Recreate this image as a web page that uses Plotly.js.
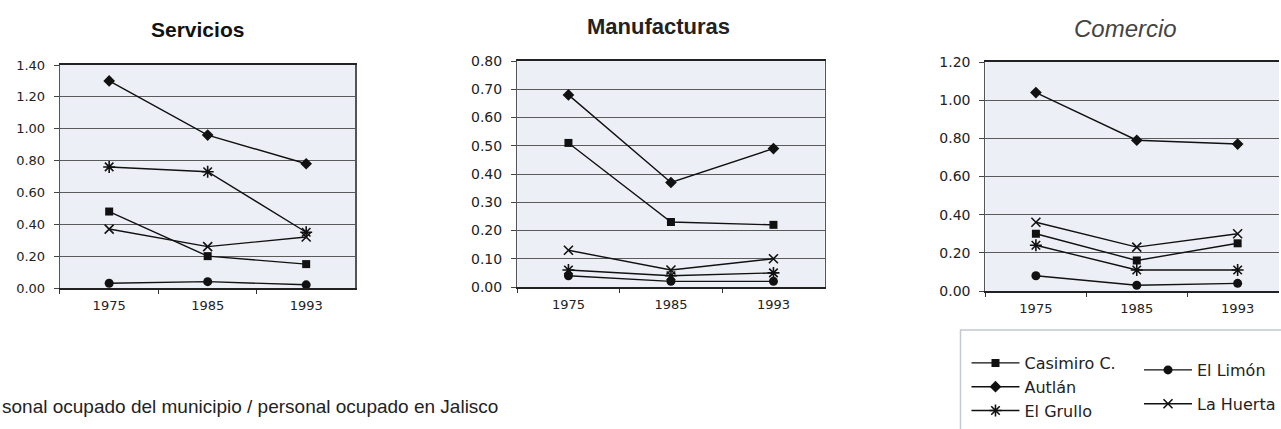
<!DOCTYPE html>
<html>
<head>
<meta charset="utf-8">
<script src="https://cdn.plot.ly/plotly-3.0.1.min.js"></script>
<style>
html,body{margin:0;padding:0;background:#fff;}
#chart{width:1281px;height:429px;}
</style>
</head>
<body>
<div id="chart"></div>
<script>
// ---- data ----
var years = ['1975', '1985', '1993'];
var seriesNames = ['Casimiro C.', 'Autlán', 'El Grullo', 'El Limón', 'La Huerta'];

var servCasimiro = [0.48, 0.20, 0.15];
var servAutlan   = [1.30, 0.96, 0.78];
var servGrullo   = [0.76, 0.73, 0.35];
var servLimon    = [0.03, 0.04, 0.02];
var servHuerta   = [0.37, 0.26, 0.32];

var manuCasimiro = [0.51, 0.23, 0.22];
var manuAutlan   = [0.68, 0.37, 0.49];
var manuGrullo   = [0.06, 0.04, 0.05];
var manuLimon    = [0.04, 0.02, 0.02];
var manuHuerta   = [0.13, 0.06, 0.10];

var comCasimiro = [0.30, 0.16, 0.25];
var comAutlan   = [1.04, 0.79, 0.77];
var comGrullo   = [0.24, 0.11, 0.11];
var comLimon    = [0.08, 0.03, 0.04];
var comHuerta   = [0.36, 0.23, 0.30];

var panelTitles = ['Servicios', 'Manufacturas', 'Comercio'];
var footnote = 'sonal ocupado del municipio / personal ocupado en Jalisco';

// ---- styles ----
var W = 1281, H = 429;
function px(x){ return x / W; }
function py(y){ return 1 - y / H; }

var markerStyles = {
  'Casimiro C.': {symbol: 'square', size: 8},
  'Autlán':      {symbol: 'diamond', size: 9},
  'El Grullo':   {symbol: 'asterisk-open', size: 10, line: {width: 1.6, color: '#111'}},
  'El Limón':    {symbol: 'circle', size: 9},
  'La Huerta':   {symbol: 'x-thin-open', size: 9, line: {width: 1.6, color: '#111'}}
};
var legendOf = {'Casimiro C.': 'legend', 'Autlán': 'legend', 'El Grullo': 'legend', 'El Limón': 'legend2', 'La Huerta': 'legend2'};

var panels = [
  [servCasimiro, servAutlan, servGrullo, servLimon, servHuerta],
  [manuCasimiro, manuAutlan, manuGrullo, manuLimon, manuHuerta],
  [comCasimiro, comAutlan, comGrullo, comLimon, comHuerta]
];

var traces = [];
panels.forEach(function(panel, p){
  panel.forEach(function(vals, s){
    var name = seriesNames[s];
    var ms = markerStyles[name];
    var marker = {symbol: ms.symbol, size: ms.size, color: '#111'};
    if (ms.line) marker.line = ms.line;
    traces.push({
      type: 'scatter', mode: 'lines+markers',
      x: years, y: vals, name: name,
      xaxis: p === 0 ? 'x' : 'x' + (p + 1),
      yaxis: p === 0 ? 'y' : 'y' + (p + 1),
      line: {color: '#111', width: 1.4},
      marker: marker,
      legendgroup: name,
      legend: legendOf[name],
      showlegend: p === 0,
      cliponaxis: false
    });
  });
});

function xAxis(domain, range, anchor){
  return {
    domain: domain, anchor: anchor, type: 'category', range: range,
    tickson: 'boundaries', ticks: 'outside', ticklen: 4, tickcolor: '#333',
    showgrid: false, zeroline: false,
    showline: true, linecolor: '#222', linewidth: 1.8, mirror: true,
    tickfont: {family: 'DejaVu Sans', size: 13, color: '#222'},
    ticklabelstandoff: 5, fixedrange: true
  };
}
function yAxis(domain, max, step, anchor, fontSize, mirror){
  return {
    domain: domain, anchor: anchor, range: [0, max], dtick: step, tickformat: '.2f',
    ticks: 'outside', ticklen: 5, tickcolor: '#444',
    showgrid: true, gridcolor: '#5a5a5a', gridwidth: 1, zeroline: false,
    showline: true, linecolor: '#555', linewidth: 1.2, mirror: mirror,
    tickfont: {family: 'DejaVu Sans', size: fontSize, color: '#222'},
    ticklabelstandoff: 6, fixedrange: true
  };
}

var layout = {
  width: W, height: H,
  margin: {l: 0, r: 0, t: 0, b: 0},
  paper_bgcolor: '#ffffff',
  plot_bgcolor: '#eceff5',
  xaxis:  xAxis([px(60),  px(356)], [-0.5, 2.5], 'y'),
  yaxis:  yAxis([py(288), py(65)], 1.4, 0.2, 'x', 13, true),
  xaxis2: xAxis([px(518), px(826)], [-0.5, 2.5], 'y2'),
  yaxis2: yAxis([py(287), py(61)], 0.8, 0.1, 'x2', 14, true),
  xaxis3: xAxis([px(987), px(1281)], [-0.5, 2.41], 'y3'),
  yaxis3: yAxis([py(291), py(62)], 1.2, 0.2, 'x3', 14, false),
  legend: {
    x: px(968), y: py(346), xanchor: 'left', yanchor: 'top',
    bgcolor: 'rgba(0,0,0,0)', borderwidth: 0, tracegroupgap: 0, itemwidth: 48,
    font: {family: 'DejaVu Sans', size: 16, color: '#222'}
  },
  legend2: {
    x: px(1141), y: py(353), xanchor: 'left', yanchor: 'top',
    bgcolor: 'rgba(0,0,0,0)', borderwidth: 0, tracegroupgap: 10, itemwidth: 48,
    font: {family: 'DejaVu Sans', size: 16, color: '#222'}
  },
  shapes: [
    {type: 'rect', xref: 'paper', yref: 'paper', x0: px(962), x1: px(1300), y0: py(440), y1: py(330),
     line: {color: '#c4c8cf', width: 1.5}, fillcolor: '#ffffff', layer: 'below'}
  ],
  annotations: [
    {text: panelTitles[0], xref: 'paper', yref: 'paper', x: px(198), y: py(29), showarrow: false,
     xanchor: 'center', yanchor: 'middle', font: {family: 'Liberation Sans', size: 21, weight: 700, color: '#111'}},
    {text: panelTitles[1], xref: 'paper', yref: 'paper', x: px(660), y: py(27), showarrow: false,
     xanchor: 'center', yanchor: 'middle', font: {family: 'Liberation Sans', size: 22, weight: 700, color: '#222'}},
    {text: panelTitles[2], xref: 'paper', yref: 'paper', x: px(1127), y: py(28), showarrow: false,
     xanchor: 'center', yanchor: 'middle', font: {family: 'Liberation Sans', size: 24, style: 'italic', color: '#444'}},
    {text: footnote, xref: 'paper', yref: 'paper', x: px(0), y: py(406), showarrow: false,
     xanchor: 'left', yanchor: 'middle', font: {family: 'Liberation Sans', size: 19, color: '#222'}}
  ]
};

Plotly.newPlot('chart', traces, layout, {displayModeBar: false, staticPlot: true});
</script>
</body>
</html>
